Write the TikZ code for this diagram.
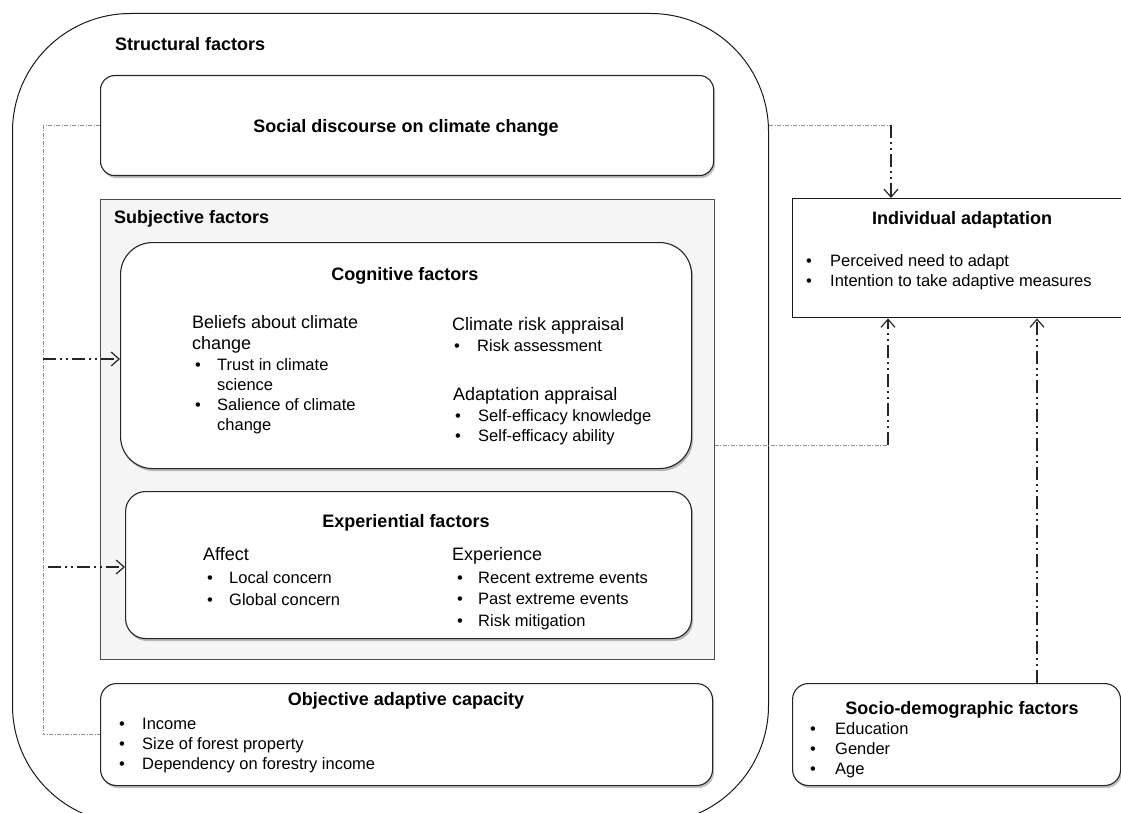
\documentclass[tikz,border=0pt]{standalone}
\usepackage{fontspec}
\setmainfont{Liberation Sans}
\usetikzlibrary{arrows.meta,shadows,calc}
\tikzset{
  ttl/.style={font=\fontsize{18}{21}\selectfont\bfseries, inner sep=0pt, anchor=base},
  head/.style={font=\fontsize{18}{21}\selectfont, inner sep=0pt, anchor=base west},
  item/.style={font=\fontsize{16.5}{20}\selectfont, inner sep=0pt, anchor=base west},
  shbox/.style={draw=black!85, line width=1.1pt, fill=white, anchor=north west, inner sep=0pt,
    drop shadow={shadow xshift=1.5pt, shadow yshift=-2.5pt, fill=black, opacity=0.25}},
  thinlink/.style={draw=black!45, line width=0.7pt, dash pattern=on 4pt off 1.5pt on 1pt off 1.5pt},
  flow/.style={draw=black!85, line width=1.3pt, dash pattern=on 13pt off 4pt on 2pt off 4pt on 2pt off 4pt,
    -{Straight Barb[length=8pt,width=14pt,line width=1.2pt]}},
}
\newcommand{\bitem}[5]{\node[item] (#1d) at (#2,#4) {•}; \node[item] (#1) at (#3,#4) {#5};}
\begin{document}
\begin{tikzpicture}[x=1pt,y=-1pt]
\useasboundingbox (0,0) rectangle (1121,813);
\begin{scope}
\clip (0,0) rectangle (1121,813);
% outer structural frame
\node[draw=black!90, line width=1pt, rounded corners=118pt, minimum width=756pt, minimum height=810pt, anchor=north west, inner sep=0pt] (struct) at (12,13) {};
\node[ttl, anchor=base west] (structt) at (115,50.7) {Structural factors};
% social discourse
\node[shbox, rounded corners=14pt, minimum width=613pt, minimum height=100pt] (soc) at (100,75) {};
\node[ttl] (soct) at (406,133) {Social discourse on climate change};
% subjective
\node[draw=black!70, fill=black!4, line width=0.9pt, minimum width=614pt, minimum height=460pt, anchor=north west, inner sep=0pt] (subj) at (100,199) {};
\node[ttl, anchor=base west] (subjt) at (114,223.5) {Subjective factors};
% cognitive
\node[shbox, rounded corners=32pt, minimum width=571pt, minimum height=226pt] (cog) at (120,242) {};
\node[ttl] (cogt) at (405,280) {Cognitive factors};
\node[head] (bel1) at (192,328) {Beliefs about climate};
\node[head] (bel2) at (192,349) {change};
\bitem{c1}{195}{217}{370}{Trust in climate}
\node[item] (c1b) at (217,390) {science};
\bitem{c2}{195}{217}{410}{Salience of climate}
\node[item] (c2b) at (217,430) {change};
\node[head] (cra) at (452,330) {Climate risk appraisal};
\bitem{c3}{454}{477}{351}{Risk assessment}
\node[head] (ada) at (453,400) {Adaptation appraisal};
\bitem{c4}{455}{478}{421}{Self-efficacy knowledge}
\bitem{c5}{455}{478}{441}{Self-efficacy ability}
% experiential
\node[shbox, rounded corners=20pt, minimum width=566pt, minimum height=147pt] (exp) at (125,491) {};
\node[ttl] (expt) at (406,527) {Experiential factors};
\node[head] (aff) at (203,560) {Affect};
\bitem{e1}{207}{229}{583}{Local concern}
\bitem{e2}{207}{229}{605}{Global concern}
\node[head] (expr) at (452,560) {Experience};
\bitem{e3}{457}{478}{583}{Recent extreme events}
\bitem{e4}{457}{478}{604}{Past extreme events}
\bitem{e5}{457}{478}{626}{Risk mitigation}
% objective
\node[shbox, rounded corners=16pt, minimum width=612pt, minimum height=102pt] (obj) at (100,683) {};
\node[ttl] (objt) at (406,705) {Objective adaptive capacity};
\bitem{o1}{119}{142}{729}{Income}
\bitem{o2}{119}{142}{749}{Size of forest property}
\bitem{o3}{119}{142}{769}{Dependency on forestry income}
% individual adaptation
\node[draw=black!90, fill=white, line width=1.4pt, minimum width=332pt, minimum height=119pt, anchor=north west, inner sep=0pt] (ind) at (792,198) {};
\node[ttl] (indt) at (962,224) {Individual adaptation};
\bitem{i1}{806}{830}{266}{Perceived need to adapt}
\bitem{i2}{806}{830}{286}{Intention to take adaptive measures}
% socio-demographic
\node[shbox, rounded corners=16pt, minimum width=328pt, minimum height=102pt] (sd) at (792,683) {};
\node[ttl] (sdt) at (962,714) {Socio-demographic factors};
\bitem{s1}{810}{835}{734}{Education}
\bitem{s2}{810}{835}{754}{Gender}
\bitem{s3}{810}{835}{774}{Age}
% connectors
\coordinate (lb) at (43,0);
\draw[thinlink] (soc.west) -| (lb |- obj.west) -- (obj.west);
\coordinate (a1) at (43,359);
\draw[flow] (a1) -- (a1 -| cog.west);
\coordinate (a2) at (48,567);
\draw[flow] (a2) -- (a2 -| exp.west);
\coordinate (k4) at (891,125);
\draw[thinlink] (k4 -| struct.east) -- (k4);
\draw[flow] (k4) -- (k4 |- ind.north);
\coordinate (k5) at (888,445);
\draw[thinlink] (k5 -| subj.east) -- (k5);
\draw[flow] (k5) -- (k5 |- ind.south);
\coordinate (k6) at (1037,0);
\draw[flow] (k6 |- sd.north) -- (k6 |- ind.south);
\end{scope}
\end{tikzpicture}
\end{document}
